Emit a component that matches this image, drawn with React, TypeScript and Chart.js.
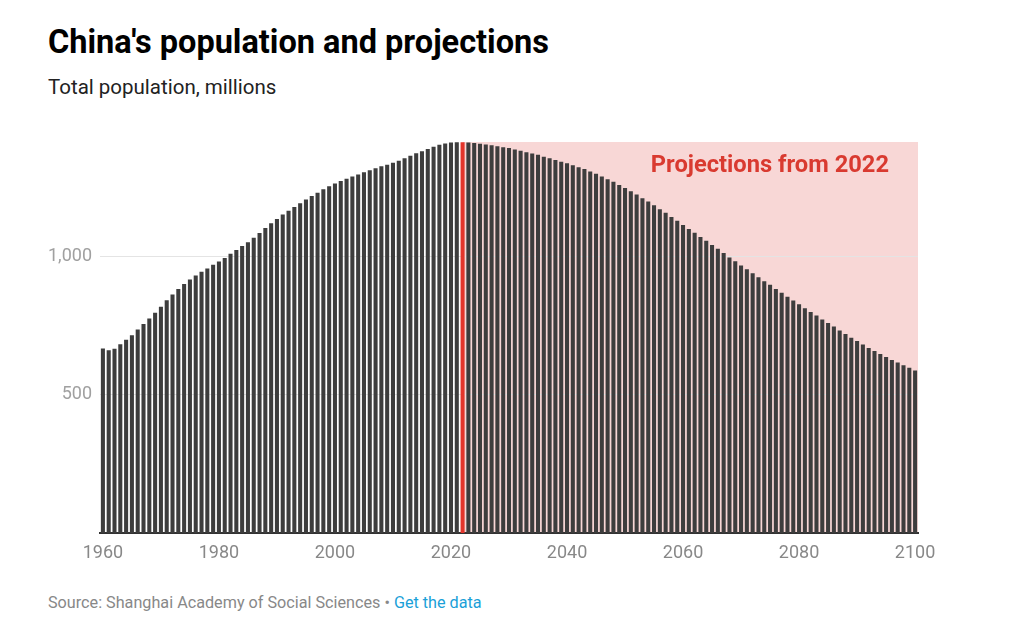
import React, { useEffect, useRef } from "react";
import { Chart, registerables } from "chart.js";

Chart.register(...registerables);

const historical = [
  667, 660, 666, 682, 698, 715, 735, 755, 775, 796,
  818, 841, 862, 882, 900, 916, 931, 944, 956, 969,
  981, 994, 1009, 1023, 1037, 1051, 1067, 1084, 1102, 1119,
  1135, 1151, 1165, 1178, 1192, 1205, 1218, 1230, 1242, 1253,
  1263, 1272, 1280, 1288, 1296, 1304, 1311, 1318, 1325, 1331,
  1338, 1345, 1354, 1363, 1372, 1380, 1388, 1396, 1403, 1408,
  1411, 1412, 1412,
];

const projected = [
  1411, 1409, 1407, 1404, 1401, 1398, 1394, 1391,
  1386, 1381, 1376, 1371, 1367, 1360, 1354, 1348, 1342, 1336,
  1329, 1322, 1315, 1306, 1298, 1288, 1278, 1269, 1258, 1247,
  1235, 1223, 1210, 1198, 1184, 1170, 1157, 1142, 1128, 1113,
  1099, 1085, 1070, 1056, 1041, 1027, 1012, 996, 982, 967,
  953, 939, 924, 910, 897, 882, 868, 854, 840, 827,
  812, 799, 786, 772, 759, 746, 732, 719, 706, 694,
  681, 669, 658, 647, 636, 625, 616, 606, 597, 587,
];

const years: string[] = [];
for (let y = 1960; y <= 2100; y++) years.push(String(y));

const values = [...historical, ...projected];
const projectionStartYear = "2022";
const xTickYears = ["1960", "1980", "2000", "2020", "2040", "2060", "2080", "2100"];
const yTickValues = [500, 1000];
const annotationText = "Projections from 2022";

const BAR = "#3d3d3d";
const RED = "#e3352b";
const PINK = "#f8d7d6";

const projectionPlugin = {
  id: "projectionBg",
  beforeDraw(chart: any) {
    const { ctx, chartArea, scales } = chart;
    const x = scales.x;
    const idx = years.indexOf(projectionStartYear);
    const left = x.getPixelForValue(idx);
    ctx.save();
    ctx.fillStyle = PINK;
    ctx.fillRect(left, chartArea.top, chartArea.right - left, chartArea.bottom - chartArea.top);
    ctx.restore();
  },
  afterDatasetsDraw(chart: any) {
    const { ctx, chartArea } = chart;
    ctx.save();
    ctx.fillStyle = "#d93a30";
    ctx.font = "bold 23.7px Roboto";
    ctx.textAlign = "right";
    ctx.textBaseline = "alphabetic";
    ctx.fillText(annotationText, chartArea.right - 29, chartArea.top + 30);
    ctx.restore();
  },
};

export default function App() {
  const ref = useRef<HTMLCanvasElement | null>(null);

  useEffect(() => {
    if (!ref.current) return;
    const chart = new Chart(ref.current, {
      type: "bar",
      data: {
        labels: years,
        datasets: [
          {
            data: values,
            backgroundColor: years.map((y) => (y === projectionStartYear ? RED : BAR)),
            barPercentage: 0.7,
            categoryPercentage: 1.0,
            borderWidth: 0,
          },
        ],
      },
      options: {
        responsive: false,
        animation: false,
        maintainAspectRatio: false,
        layout: { padding: { top: 22, right: 106, left: 0, bottom: 0 } },
        plugins: {
          legend: { display: false },
          tooltip: { enabled: false },
          title: { display: false },
        },
        scales: {
          x: {
            z: 1,
            grid: { display: false, drawTicks: false },
            border: { display: true, color: "#333333", width: 2 },
            ticks: {
              autoSkip: false,
              maxRotation: 0,
              minRotation: 0,
              padding: 10,
              color: "#888888",
              font: { family: "Roboto", size: 18 },
              callback: (_v: any, i: number) => (xTickYears.includes(years[i]) ? years[i] : ""),
            },
            afterFit: (s: any) => {
              s.height = 47;
            },
          },
          y: {
            min: 0,
            max: 1413,
            afterBuildTicks: (s: any) => {
              s.ticks = yTickValues.map((v) => ({ value: v }));
            },
            afterFit: (s: any) => {
              s.width = 100;
            },
            grid: { color: "#e4e4e4", drawTicks: false, lineWidth: 1 },
            border: { display: false },
            ticks: {
              padding: 8,
              color: "#a0a0a0",
              font: { family: "Roboto", size: 18 },
              callback: (v: any) => Number(v).toLocaleString("en-US"),
            },
          },
        },
      },
      plugins: [projectionPlugin],
    });
    return () => chart.destroy();
  }, []);

  return (
    <div
      style={{
        position: "absolute",
        left: 0,
        top: 0,
        width: 1024,
        height: 639,
        background: "#ffffff",
        fontFamily: "Roboto, sans-serif",
        overflow: "hidden",
      }}
    >
      <div
        style={{
          position: "absolute",
          left: 48,
          top: 22,
          fontSize: 32.5,
          fontWeight: 700,
          color: "#000",
          lineHeight: "40px",
          whiteSpace: "nowrap",
        }}
      >
        China's population and projections
      </div>
      <div
        style={{
          position: "absolute",
          left: 48,
          top: 74,
          fontSize: 20.5,
          color: "#222",
          lineHeight: "26px",
          whiteSpace: "nowrap",
        }}
      >
        Total population, millions
      </div>
      <canvas
        ref={ref}
        width={1024}
        height={460}
        style={{ position: "absolute", left: 0, top: 120, width: 1024, height: 460 }}
      />
      <div
        style={{
          position: "absolute",
          left: 48,
          top: 592,
          fontSize: 16.2,
          color: "#888",
          lineHeight: "22px",
          whiteSpace: "nowrap",
        }}
      >
        Source: Shanghai Academy of Social Sciences •{" "}
        <span style={{ color: "#1aa0d8" }}>Get the data</span>
      </div>
    </div>
  );
}
